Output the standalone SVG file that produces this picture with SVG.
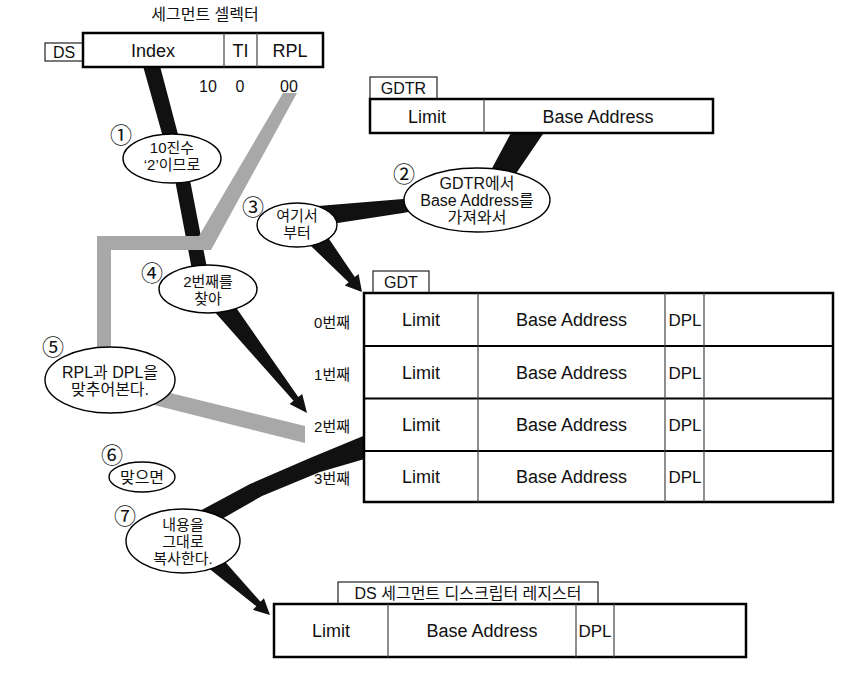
<svg xmlns="http://www.w3.org/2000/svg" width="868" height="688" viewBox="0 0 868 688">
<style>
  text { font-family: "Liberation Sans", "Noto Sans CJK KR", sans-serif; fill: #111; }
  .t18 { font-size: 18px; text-anchor: middle; }
  .t17 { font-size: 17px; text-anchor: middle; }
  .t16 { font-size: 16px; text-anchor: middle; }
  .b15 { font-size: 15px; text-anchor: middle; }
  .lab { font-size: 16px; text-anchor: middle; }
  .row { font-size: 15px; text-anchor: end; }
  .num { font-size: 22px; text-anchor: middle; font-family: "Noto Sans CJK KR", sans-serif; }
  .box { fill: #fff; stroke: #000; stroke-width: 2.5; }
  .tab { fill: #fff; stroke: #222; stroke-width: 1.2; }
  .div { stroke: #444; stroke-width: 1.2; fill: none; }
  .rowline { stroke: #000; stroke-width: 2; fill: none; }
  .bub { fill: #fff; stroke: #000; stroke-width: 1.4; }
  .blk { fill: #111; }
  .gry { fill: #a8a8a8; }
</style>

<g id="connectors">
  <!-- Index -> 2nd entry (black) -->
  <polygon class="blk" points="143,66 160,66 190,180 207,268 192,270 175,180"/>
  <polygon class="blk" points="229.9,298.8 298.3,397 302.2,393.9 307,413 289.6,403.9 293.5,400.8 214.1,311.2"/>
  <!-- RPL grey path -->
  <polygon class="gry" points="283,93 297,93 211,250 111,250 111,352 97,352 97,236 199,236"/>
  <polygon class="gry" points="158,390 305,426 305,443 154,405"/>
  <!-- GDTR -> here -->
  <polygon class="blk" points="512,131 545,131 515,175 470,200 403,213 318,226 318,206 403,199 460,185 490,172"/>
  <polygon class="blk" points="322.7,229.6 354.8,277.1 358.6,273.9 362,292 344.8,285.5 348.6,282.3 307.3,242.4"/>
  <!-- GDT entry 2 -> copy -->
  <polygon class="blk" points="368,434 368,458 320,472 262,496 220,520 196,513 250,484 310,458"/>
  <polygon class="blk" points="216,551.5 260.5,601.8 263.9,598.2 270,615 252.9,609.8 256.3,606.2 204,564.5"/>
</g>

<g id="selector">
  <text class="lab" x="205" y="20">세그먼트 셀렉터</text>
  <rect class="tab" x="45" y="43" width="38" height="18"/>
  <text class="lab" x="64" y="58">DS</text>
  <rect class="box" x="83" y="33" width="240" height="34"/>
  <line class="div" x1="224" y1="33" x2="224" y2="67"/>
  <line class="div" x1="257" y1="33" x2="257" y2="67"/>
  <text class="t18" x="153" y="57">Index</text>
  <text class="t18" x="240.5" y="57">TI</text>
  <text class="t18" x="290" y="57">RPL</text>
  <text class="t16" x="208" y="92">10</text>
  <text class="t16" x="240" y="92">0</text>
  <text class="t16" x="289" y="92">00</text>
</g>

<g id="gdtr">
  <rect class="tab" x="370" y="77" width="67" height="22"/>
  <text class="lab" x="403.5" y="94">GDTR</text>
  <rect class="box" x="370" y="99" width="343" height="34"/>
  <line class="div" x1="484" y1="99" x2="484" y2="133"/>
  <text class="t18" x="427" y="122.5">Limit</text>
  <text class="t18" x="598" y="122.5">Base Address</text>
</g>

<g id="gdt">
  <rect class="tab" x="373" y="271" width="56" height="22"/>
  <text class="lab" x="401" y="288">GDT</text>
  <rect class="box" x="364" y="293" width="469" height="209"/>
  <line class="rowline" x1="364" y1="346" x2="833" y2="346"/>
  <line class="rowline" x1="364" y1="398.5" x2="833" y2="398.5"/>
  <line class="rowline" x1="364" y1="451" x2="833" y2="451"/>
  <line class="div" x1="478" y1="293" x2="478" y2="502"/>
  <line class="div" x1="665" y1="293" x2="665" y2="502"/>
  <line class="div" x1="704" y1="293" x2="704" y2="502"/>
  <text class="t18" x="421" y="326">Limit</text>
  <text class="t18" x="571.5" y="326">Base Address</text>
  <text class="t17" x="685" y="326">DPL</text>
  <text class="t18" x="421" y="378.5">Limit</text>
  <text class="t18" x="571.5" y="378.5">Base Address</text>
  <text class="t17" x="685" y="378.5">DPL</text>
  <text class="t18" x="421" y="431">Limit</text>
  <text class="t18" x="571.5" y="431">Base Address</text>
  <text class="t17" x="685" y="431">DPL</text>
  <text class="t18" x="421" y="483">Limit</text>
  <text class="t18" x="571.5" y="483">Base Address</text>
  <text class="t17" x="685" y="483">DPL</text>
  <text class="row" x="350" y="328">0번째</text>
  <text class="row" x="350" y="380">1번째</text>
  <text class="row" x="350" y="432">2번째</text>
  <text class="row" x="350" y="484">3번째</text>
</g>

<g id="ds-descriptor">
  <rect class="tab" x="338" y="582" width="260" height="22"/>
  <text class="lab" x="468" y="599">DS 세그먼트 디스크립터 레지스터</text>
  <rect class="box" x="274" y="604" width="472" height="53"/>
  <line class="div" x1="388" y1="604" x2="388" y2="657"/>
  <line class="div" x1="576" y1="604" x2="576" y2="657"/>
  <line class="div" x1="614" y1="604" x2="614" y2="657"/>
  <text class="t18" x="331" y="637">Limit</text>
  <text class="t18" x="482" y="637">Base Address</text>
  <text class="t17" x="595" y="637">DPL</text>
</g>

<g id="step1">
  <text class="num" x="121" y="143">①</text>
  <ellipse class="bub" cx="172" cy="158.5" rx="49" ry="24.5"/>
  <text class="b15" x="172" y="153">10진수</text>
  <text class="b15" x="172" y="170">‘2’이므로</text>
</g>

<g id="step2">
  <text class="num" x="404" y="182">②</text>
  <ellipse class="bub" cx="477" cy="200" rx="73" ry="32"/>
  <text class="t16" x="477" y="189">GDTR에서</text>
  <text class="t16" x="477" y="206">Base Address를</text>
  <text class="t16" x="477" y="223">가져와서</text>
</g>

<g id="step3">
  <text class="num" x="253" y="215">③</text>
  <ellipse class="bub" cx="297" cy="225" rx="40" ry="22"/>
  <text class="b15" x="297" y="221">여기서</text>
  <text class="b15" x="297" y="238">부터</text>
</g>

<g id="step4">
  <text class="num" x="152" y="281">④</text>
  <ellipse class="bub" cx="208" cy="289" rx="49" ry="24"/>
  <text class="b15" x="208" y="287">2번째를</text>
  <text class="b15" x="208" y="304">찾아</text>
</g>

<g id="step5">
  <text class="num" x="53" y="355">⑤</text>
  <ellipse class="bub" cx="110" cy="380" rx="65" ry="33"/>
  <text class="t16" x="110" y="378">RPL과 DPL을</text>
  <text class="t16" x="110" y="395">맞추어본다.</text>
</g>

<g id="step6">
  <text class="num" x="112" y="463">⑥</text>
  <ellipse class="bub" cx="142" cy="477" rx="33" ry="15"/>
  <text class="t16" x="142" y="483">맞으면</text>
</g>

<g id="step7">
  <text class="num" x="125" y="524">⑦</text>
  <ellipse class="bub" cx="183" cy="541" rx="57" ry="32"/>
  <text class="b15" x="183" y="530">내용을</text>
  <text class="b15" x="183" y="547">그대로</text>
  <text class="b15" x="183" y="564">복사한다.</text>
</g>
</svg>
